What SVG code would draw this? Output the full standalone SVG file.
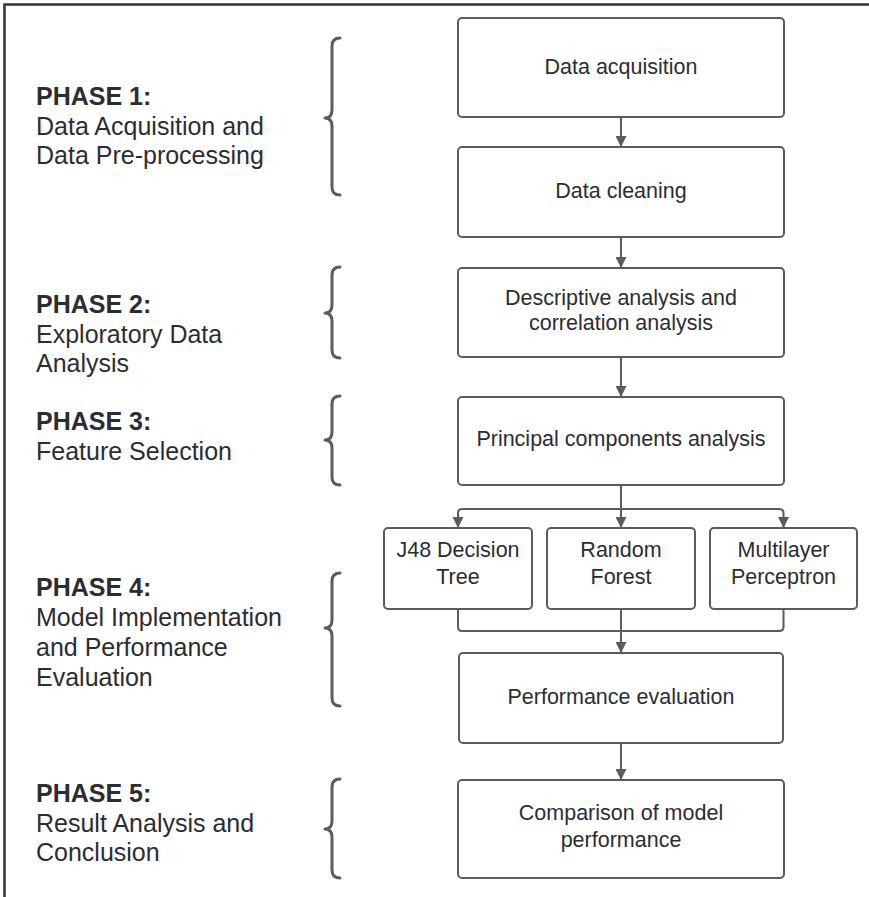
<svg xmlns="http://www.w3.org/2000/svg" width="869" height="897" viewBox="0 0 869 897">
<defs>
<style>
.box{fill:#fff;stroke:#5c5c5c;stroke-width:2}
.bt{font-family:"Liberation Sans",Arial,sans-serif;font-size:21.5px;fill:#2b2d33;text-anchor:middle}
.pt{font-family:"Liberation Sans",Arial,sans-serif;font-size:25px;fill:#2b2d33}
.pb{font-weight:bold}
.con{fill:none;stroke:#5c5c5c;stroke-width:2}
.brace{fill:none;stroke:#5c5c5c;stroke-width:3;stroke-linecap:round;stroke-linejoin:round}
</style>
<marker id="ah" viewBox="0 0 10 10" refX="10" refY="5" markerWidth="5.5" markerHeight="5.5" orient="auto" markerUnits="strokeWidth">
<path d="M0,0 L10,5 L0,10 z" fill="#5c5c5c"/>
</marker>
</defs>
<rect width="869" height="897" fill="#fff"/>
<path d="M4.5,897 V4.5 H869" fill="none" stroke="#333" stroke-width="2.5"/>

<g id="phase1">
<text class="pt" x="36" y="105"><tspan class="pb">PHASE 1:</tspan><tspan x="36" y="134.5">Data Acquisition and</tspan><tspan x="36" y="164">Data Pre-processing</tspan></text>
<path class="brace" d="M340,38 Q332,38 332,46 V110 Q332,118 325,118 Q332,118 332,126 V187 Q332,195 340,195"/>
</g>
<g id="phase2">
<text class="pt" x="36" y="313"><tspan class="pb">PHASE 2:</tspan><tspan x="36" y="342.5">Exploratory Data</tspan><tspan x="36" y="372">Analysis</tspan></text>
<path class="brace" d="M340,267 Q332,267 332,275 V305 Q332,313 325,313 Q332,313 332,321 V350 Q332,358 340,358"/>
</g>
<g id="phase3">
<text class="pt" x="36" y="430"><tspan class="pb">PHASE 3:</tspan><tspan x="36" y="459.5">Feature Selection</tspan></text>
<path class="brace" d="M340,396 Q332,396 332,404 V432 Q332,440 325,440 Q332,440 332,448 V477 Q332,485 340,485"/>
</g>
<g id="phase4">
<text class="pt" x="36" y="596"><tspan class="pb">PHASE 4:</tspan><tspan x="36" y="626">Model Implementation</tspan><tspan x="36" y="656">and Performance</tspan><tspan x="36" y="686">Evaluation</tspan></text>
<path class="brace" d="M340,573 Q332,573 332,581 V620 Q332,628 325,628 Q332,628 332,636 V698 Q332,706 340,706"/>
</g>
<g id="phase5">
<text class="pt" x="36" y="802"><tspan class="pb">PHASE 5:</tspan><tspan x="36" y="831.5">Result Analysis and</tspan><tspan x="36" y="861">Conclusion</tspan></text>
<path class="brace" d="M340,779 Q332,779 332,787 V821 Q332,829 325,829 Q332,829 332,837 V870 Q332,878 340,878"/>
</g>

<g id="n1"><rect class="box" x="458" y="18" width="326" height="99" rx="4"/><text class="bt" x="621" y="74">Data acquisition</text></g>
<g id="n2"><rect class="box" x="458" y="147" width="326" height="90" rx="4"/><text class="bt" x="621" y="198">Data cleaning</text></g>
<g id="n3"><rect class="box" x="458" y="268" width="326" height="89" rx="4"/><text class="bt" x="621" y="305">Descriptive analysis and</text><text class="bt" x="621" y="330">correlation analysis</text></g>
<g id="n4"><rect class="box" x="458" y="397" width="326" height="88" rx="4"/><text class="bt" x="621" y="446">Principal components analysis</text></g>
<g id="n5"><rect class="box" x="384" y="528" width="148" height="81" rx="4"/><text class="bt" x="458" y="557">J48 Decision</text><text class="bt" x="458" y="584">Tree</text></g>
<g id="n6"><rect class="box" x="547" y="528" width="148" height="81" rx="4"/><text class="bt" x="621" y="557">Random</text><text class="bt" x="621" y="584">Forest</text></g>
<g id="n7"><rect class="box" x="710" y="528" width="147" height="81" rx="4"/><text class="bt" x="783.5" y="557">Multilayer</text><text class="bt" x="783.5" y="584">Perceptron</text></g>
<g id="n8"><rect class="box" x="459" y="653" width="324" height="90" rx="4"/><text class="bt" x="621" y="704">Performance evaluation</text></g>
<g id="n9"><rect class="box" x="458" y="780" width="326" height="98" rx="4"/><text class="bt" x="621" y="820">Comparison of model</text><text class="bt" x="621" y="847">performance</text></g>

<g id="connectors">
<path class="con" d="M621,117 V147" marker-end="url(#ah)"/>
<path class="con" d="M621,237 V268" marker-end="url(#ah)"/>
<path class="con" d="M621,357 V397" marker-end="url(#ah)"/>
<path class="con" d="M621,485 V528" marker-end="url(#ah)"/>
<path class="con" d="M621,509 H462 Q458,509 458,513 V528" marker-end="url(#ah)"/>
<path class="con" d="M621,509 H779 Q783.5,509 783.5,513 V528" marker-end="url(#ah)"/>
<path class="con" d="M458,609 V627 Q458,631 462,631 H779 Q783.5,631 783.5,627 V609"/>
<path class="con" d="M621,609 V653" marker-end="url(#ah)"/>
<path class="con" d="M621,743 V780" marker-end="url(#ah)"/>
</g>
</svg>
